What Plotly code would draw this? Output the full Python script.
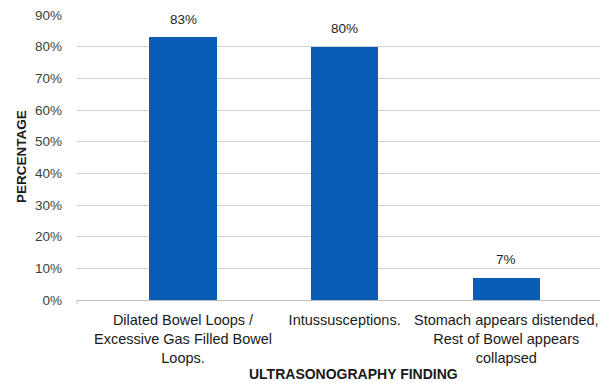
import plotly.graph_objects as go

categories = [
    "Dilated Bowel Loops /<br>Excessive Gas Filled Bowel<br>Loops.",
    "Intussusceptions.",
    "Stomach appears distended,<br>Rest of Bowel appears<br>collapsed",
]
values = [0.83, 0.80, 0.07]
value_labels = ["83%", "80%", "7%"]
y_ticks = [0, 0.1, 0.2, 0.3, 0.4, 0.5, 0.6, 0.7, 0.8, 0.9]
y_tick_labels = ["0%", "10%", "20%", "30%", "40%", "50%", "60%", "70%", "80%", "90%"]

FONT = "Liberation Sans"
fig = go.Figure()
fig.add_trace(go.Bar(
    x=[0, 1, 2], y=values, width=0.415,
    marker=dict(color="#0A5DB5", line=dict(width=0)),
    hoverinfo="skip",
))
for i, (v, t) in enumerate(zip(values, value_labels)):
    fig.add_annotation(
        x=i, y=v, text=t, xref="x", yref="y", showarrow=False,
        yanchor="middle", yshift=18,
        font=dict(family=FONT, size=13.5, color="#262626"),
    )

fig.update_layout(
    width=600, height=383,
    margin=dict(l=77, r=0, t=15, b=83),
    paper_bgcolor="white", plot_bgcolor="white",
    showlegend=False,
    bargap=0,
    font=dict(family=FONT, size=13, color="#262626"),
)
fig.update_xaxes(
    range=[-0.656, 2.58],
    tickmode="array", tickvals=[0, 1, 2], ticktext=categories,
    tickfont=dict(family=FONT, size=14.5, color="#1a1a1a"),
    showline=True, linecolor="#bfbfbf", linewidth=1,
    showgrid=False, zeroline=False, ticks="", ticklabelstandoff=7,
)
fig.update_yaxes(
    range=[0, 0.9],
    tickmode="array", tickvals=y_ticks, ticktext=y_tick_labels,
    tickfont=dict(family=FONT, size=13.5, color="#404040"),
    showgrid=True, gridcolor="#d0d0d0", gridwidth=1,
    zeroline=False, showline=False, ticks="", ticklabelstandoff=14,
)
fig.add_annotation(
    text="<b>PERCENTAGE</b>", xref="paper", yref="paper",
    x=-(77 - 21) / 523, y=(300 - 157) / 285, xanchor="center", yanchor="middle",
    textangle=-90, showarrow=False,
    font=dict(family=FONT, size=13.5, color="#1a1a1a"),
)
fig.add_annotation(
    text="<b>ULTRASONOGRAPHY FINDING</b>", xref="paper", yref="paper",
    x=(353 - 77) / 523, y=-(374 - 300) / 285, xanchor="center", yanchor="middle",
    showarrow=False, font=dict(family=FONT, size=14, color="#1a1a1a"),
)
fig.add_shape(type="line", xref="paper", yref="paper", x0=0, x1=0, y0=0, y1=-4 / 285,
              line=dict(color="#bfbfbf", width=1))

fig.write_html("out.html")
